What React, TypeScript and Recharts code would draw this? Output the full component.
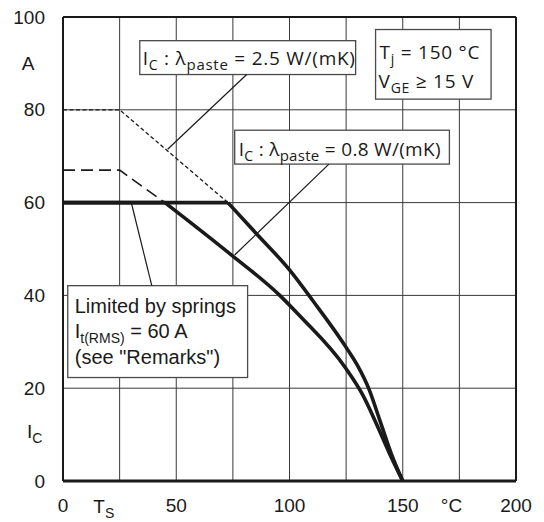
import React from 'react';
import { LineChart, Line, XAxis, YAxis, ReferenceLine, ReferenceArea } from 'recharts';

// Curve data: heatsink temperature T_S (°C) vs. collector current I_C (A)
const tempLow = [0, 45, 73.6, 95.7, 104.5, 125, 132.5, 138.4, 144.2, 150];
const curLow = [60, 60, 49, 40, 35.6, 24.2, 18.4, 12.3, 5.9, 0];

const tempHigh = [0, 72.8, 85, 100, 110.4, 125, 130, 135, 140, 145, 150];
const curHigh = [60, 60, 53.5, 45.5, 38.8, 28.8, 24.9, 19.9, 12.9, 5.8, 0];

const tempDotted = [0, 25, 72.8];
const curDotted = [80, 80, 60];

const tempDashed = [0, 25, 45];
const curDashed = [67, 67, 60];

// Axis ticks and labels
const xTicks = [0, 18, 50, 100, 150, 171.5, 200];
const xTickLabels = ['0', 'T', '50', '100', '150', '°C', '200'];
const yTicks = [0, 10, 20, 40, 60, 80, 90, 100];
const yTickLabels = ['0', 'I', '20', '40', '60', '80', 'A', '100'];
const gridX = [25, 50, 75, 100, 125, 150, 175];
const gridY = [20, 40, 60, 80];

// Annotation boxes (data coordinates)
const box1 = { x1: 33.9, x2: 129.2, y1: 87.6, y2: 94.9 };
const box2 = { x1: 138.0, x2: 189.0, y1: 82.3, y2: 97.3 };
const box3 = { x1: 75.8, x2: 170.6, y1: 68.3, y2: 75.6 };
const box4 = { x1: 2.1, x2: 81.5, y1: 22.3, y2: 42.1 };

// Leader lines (data coordinates)
const leader1 = [{ x: 81.1, y: 87.6 }, { x: 46.2, y: 71.5 }];
const leader2 = [{ x: 117.4, y: 68.3 }, { x: 75.8, y: 48.7 }];
const leader3 = [{ x: 39.2, y: 42.1 }, { x: 30.3, y: 59.7 }];

const toPts = (ts: number[], is: number[]) => ts.map((t, k) => ({ t, i: is[k] }));
const lowPts = toPts(tempLow, curLow);
const highPts = toPts(tempHigh, curHigh);

const INK = '#1a1a1a';
const AX_FONT = '"Liberation Sans", Arial, sans-serif';
const BOX_FONT = '"Open Sans", Lato, sans-serif';
const LS = 0.75;

const XTick = (props: any) => {
  const { x, y, payload } = props;
  const idx = xTicks.indexOf(payload.value);
  const label = xTickLabels[idx];
  if (label === 'T') {
    return (
      <text x={x} y={y + 32} textAnchor="middle" fontFamily={AX_FONT} fontSize={19} fill={INK}>
        T<tspan fontSize={14} dy={5}>S</tspan>
      </text>
    );
  }
  return (
    <text x={x} y={y + 31} textAnchor="middle" fontFamily={AX_FONT} fontSize={19} fill={INK}>
      {label}
    </text>
  );
};

const YTick = (props: any) => {
  const { x, y, payload } = props;
  const idx = yTicks.indexOf(payload.value);
  const label = yTickLabels[idx];
  if (label === 'I') {
    return (
      <text x={x - 36} y={y + 3} textAnchor="start" fontFamily={AX_FONT} fontSize={19} fill={INK}>
        I<tspan fontSize={14} dy={5}>C</tspan>
      </text>
    );
  }
  if (label === 'A') {
    return (
      <text x={x - 35} y={y + 6.6} textAnchor="middle" fontFamily={AX_FONT} fontSize={19} fill={INK}>
        A
      </text>
    );
  }
  return (
    <text x={x - 18} y={y + 6.6} textAnchor="end" fontFamily={AX_FONT} fontSize={19} fill={INK}>
      {label}
    </text>
  );
};

const Frame = ({ x, y, width, height }: any) => (
  <rect x={x} y={y} width={width} height={height} fill="#fff" stroke="#4a4a4a" strokeWidth={1.3} />
);

const Box1 = (p: any) => (
  <g>
    <Frame {...p} />
    <text x={p.x + 3} y={p.y + 24} fontFamily={BOX_FONT} fontSize={19} letterSpacing={LS} fill={INK}>
      I<tspan fontSize={14} dy={5}>C</tspan>
      <tspan dy={-5}> : λ</tspan>
      <tspan fontSize={15} dy={5}>paste</tspan>
      <tspan dy={-5}> = 2.5 W/(mK)</tspan>
    </text>
  </g>
);

const Box2 = (p: any) => (
  <g>
    <Frame {...p} />
    <text x={p.x + 4} y={p.y + 29} fontFamily={BOX_FONT} fontSize={19} letterSpacing={LS} fill={INK}>
      T<tspan fontSize={14} dy={5}>j</tspan>
      <tspan dy={-5}> = 150 °C</tspan>
    </text>
    <text x={p.x + 3} y={p.y + 58} fontFamily={BOX_FONT} fontSize={19} letterSpacing={LS} fill={INK}>
      V<tspan fontSize={14} dy={5}>GE</tspan>
      <tspan dy={-5}> ≥ 15 V</tspan>
    </text>
  </g>
);

const Box3 = (p: any) => (
  <g>
    <Frame {...p} />
    <text x={p.x + 4} y={p.y + 26} fontFamily={BOX_FONT} fontSize={19} letterSpacing={0.3} fill={INK}>
      I<tspan fontSize={14} dy={5}>C</tspan>
      <tspan dy={-5}> : λ</tspan>
      <tspan fontSize={15} dy={5}>paste</tspan>
      <tspan dy={-5}> = 0.8 W/(mK)</tspan>
    </text>
  </g>
);

const Box4 = (p: any) => (
  <g>
    <Frame {...p} />
    <text x={p.x + 7} y={p.y + 27} fontFamily={AX_FONT} fontSize={20} fill={INK}>
      Limited by springs
    </text>
    <text x={p.x + 7} y={p.y + 52} fontFamily={AX_FONT} fontSize={20} fill={INK}>
      I<tspan fontSize={14} dy={5}>t(RMS)</tspan>
      <tspan dy={-5}> = 60 A</tspan>
    </text>
    <text x={p.x + 7} y={p.y + 78} fontFamily={AX_FONT} fontSize={20} fill={INK}>
      (see "Remarks")
    </text>
  </g>
);

const thick = { stroke: INK, strokeWidth: 3.6, dot: false, isAnimationActive: false } as const;

export default function App() {
  return (
    <div style={{ position: 'absolute', left: 0, top: 0, width: 544, height: 522, background: '#fff' }}>
      <LineChart width={544} height={522} margin={{ top: 17, right: 28, bottom: 0, left: 0 }}>
        <XAxis
          type="number"
          dataKey="t"
          domain={[0, 200]}
          ticks={xTicks}
          interval={0}
          height={41}
          tickSize={0}
          tickMargin={0}
          tickLine={false}
          axisLine={{ stroke: INK, strokeWidth: 3 }}
          tick={<XTick />}
          allowDataOverflow
        />
        <YAxis
          type="number"
          dataKey="i"
          domain={[0, 100]}
          ticks={yTicks}
          interval={0}
          width={63}
          tickSize={0}
          tickMargin={0}
          tickLine={false}
          axisLine={{ stroke: INK, strokeWidth: 2 }}
          tick={<YTick />}
          allowDataOverflow
        />
        {gridX.map((g) => (
          <ReferenceLine key={'gx' + g} x={g} stroke="#3a3a3a" strokeWidth={1} zIndex={10} />
        ))}
        {gridY.map((g) => (
          <ReferenceLine key={'gy' + g} y={g} stroke="#3a3a3a" strokeWidth={1} zIndex={10} />
        ))}
        <ReferenceLine y={100} stroke={INK} strokeWidth={2} zIndex={500} />
        <ReferenceLine x={200} stroke={INK} strokeWidth={2} zIndex={500} />

        <ReferenceArea {...box1} shape={<Box1 />} zIndex={20} />
        <ReferenceArea {...box2} shape={<Box2 />} zIndex={20} />
        <ReferenceArea {...box3} shape={<Box3 />} zIndex={20} />
        <ReferenceArea {...box4} shape={<Box4 />} zIndex={20} />

        <ReferenceLine segment={leader1} stroke={INK} strokeWidth={1.2} zIndex={30} />
        <ReferenceLine segment={leader2} stroke={INK} strokeWidth={1.2} zIndex={30} />
        <ReferenceLine segment={leader3} stroke={INK} strokeWidth={1.2} zIndex={30} />

        <Line
          data={toPts(tempDotted, curDotted)}
          dataKey="i"
          type="linear"
          stroke={INK}
          strokeWidth={1.3}
          strokeDasharray="4 2.5"
          dot={false}
          isAnimationActive={false}
        />
        <Line
          data={toPts(tempDashed, curDashed)}
          dataKey="i"
          type="linear"
          stroke={INK}
          strokeWidth={1.6}
          strokeDasharray="12 6"
          dot={false}
          isAnimationActive={false}
        />
        <Line data={lowPts.slice(0, 2)} dataKey="i" type="linear" {...thick} />
        <Line data={lowPts.slice(1)} dataKey="i" type="monotone" {...thick} />
        <Line data={highPts.slice(0, 2)} dataKey="i" type="linear" {...thick} />
        <Line data={highPts.slice(1)} dataKey="i" type="monotone" {...thick} />
      </LineChart>
    </div>
  );
}
